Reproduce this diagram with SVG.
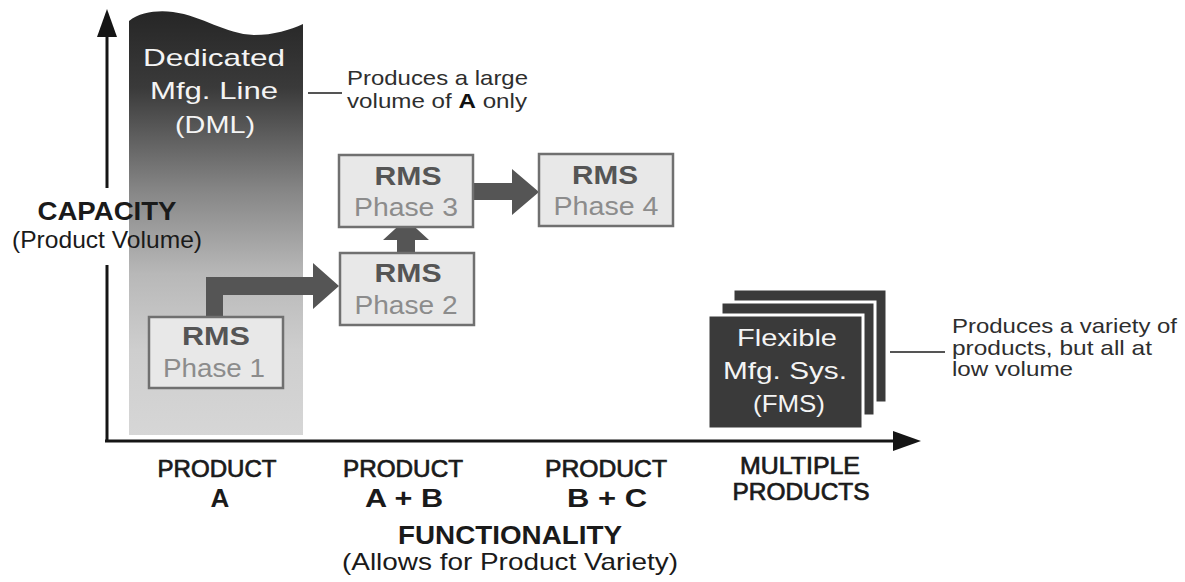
<svg xmlns="http://www.w3.org/2000/svg" width="1185" height="582" viewBox="0 0 1185 582">
  <defs>
    <linearGradient id="dmlGrad" x1="0" y1="0" x2="0" y2="1">
      <stop offset="0" stop-color="#262626"/>
      <stop offset="0.18" stop-color="#3a3a3a"/>
      <stop offset="0.42" stop-color="#858585"/>
      <stop offset="0.62" stop-color="#b8b8b8"/>
      <stop offset="0.8" stop-color="#cecece"/>
      <stop offset="1" stop-color="#d6d6d6"/>
    </linearGradient>
    <style>
      text { font-family: "Liberation Sans", Arial, Helvetica, sans-serif; }
      .axis { stroke: #151515; stroke-width: 3; fill: none; }
      .axhead { fill: #151515; }
      .rmsbox { fill: #e8e8e8; stroke: #707070; stroke-width: 2.5; }
      .rms { font-size: 25px; font-weight: bold; fill: #555555; text-anchor: middle; }
      .phase { font-size: 25px; fill: #8c8c8c; text-anchor: middle; }
      .arrow { fill: #555555; }
      .white { font-size: 24px; fill: #f4f4f4; text-anchor: middle; }
      .note { font-size: 21px; fill: #2e2e2e; }
      .leader { stroke: #555555; stroke-width: 2; }
      .fmsbox { fill: #3a3a3a; stroke: #ffffff; stroke-width: 3; }
      .prod { font-size: 23px; fill: #1a1a1a; stroke: #1a1a1a; stroke-width: 0.7; text-anchor: middle; }
      .prodb { font-size: 26px; font-weight: bold; fill: #1a1a1a; text-anchor: middle; }
      .title { font-size: 25px; font-weight: bold; fill: #1a1a1a; text-anchor: middle; }
      .sub { font-size: 24px; fill: #1a1a1a; text-anchor: middle; }
    </style>
  </defs>

  <rect width="1185" height="582" fill="#ffffff"/>

  <!-- DML column -->
  <g id="dml">
    <path d="M129,21 C140,12 158,10 173,12 C203,16 225,34 254,35 C274,35 290,30 303,24 L303,435 L129,435 Z" fill="url(#dmlGrad)"/>
    <text class="white" x="214" y="66" font-size="25" textLength="142" lengthAdjust="spacingAndGlyphs">Dedicated</text>
    <text class="white" x="214" y="99" font-size="25" textLength="128" lengthAdjust="spacingAndGlyphs">Mfg. Line</text>
    <text class="white" x="215" y="133" font-size="25" textLength="80" lengthAdjust="spacingAndGlyphs">(DML)</text>
  </g>

  <!-- Axes -->
  <g id="axes">
    <line class="axis" x1="107" y1="441" x2="107" y2="265"/>
    <line class="axis" x1="107" y1="188" x2="107" y2="34"/>
    <polygon class="axhead" points="107,9 97,37 117,37"/>
    <line class="axis" x1="105" y1="441" x2="895" y2="441"/>
    <polygon class="axhead" points="921,441 893,431 893,451"/>
  </g>

  <g id="capacity-label">
    <text class="title" x="107" y="220" font-size="22" textLength="139" lengthAdjust="spacingAndGlyphs">CAPACITY</text>
    <text class="sub" x="107" y="248" font-size="23" textLength="190" lengthAdjust="spacingAndGlyphs">(Product Volume)</text>
  </g>

  <!-- Annotation DML -->
  <g id="note-dml">
    <line class="leader" x1="308" y1="93" x2="342" y2="93"/>
    <text class="note" x="347" y="85" textLength="181" lengthAdjust="spacingAndGlyphs">Produces a large</text>
    <text class="note" x="347" y="108" textLength="180" lengthAdjust="spacingAndGlyphs">volume of <tspan font-weight="bold" fill="#111">A</tspan> only</text>
  </g>

  <!-- Connectors -->
  <g id="connectors">
    <polygon class="arrow" points="206,318 206,277 313,277 313,263 339,286 313,309 313,295 223,295 223,318"/>
    <polygon class="arrow" points="397,254 397,240 383,240 406,219 429,240 415,240 415,254"/>
    <polygon class="arrow" points="474,183 512,183 512,169 539,192 512,215 512,200 474,200"/>
  </g>

  <!-- RMS nodes -->
  <g id="rms1">
    <rect class="rmsbox" x="149" y="317" width="134" height="71"/>
    <text class="rms" x="216" y="345" textLength="68" lengthAdjust="spacingAndGlyphs">RMS</text>
    <text class="phase" x="214" y="377" textLength="102" lengthAdjust="spacingAndGlyphs">Phase 1</text>
  </g>
  <g id="rms2">
    <rect class="rmsbox" x="340" y="253" width="134" height="72"/>
    <text class="rms" x="408" y="282" textLength="67" lengthAdjust="spacingAndGlyphs">RMS</text>
    <text class="phase" x="406" y="314" textLength="103" lengthAdjust="spacingAndGlyphs">Phase 2</text>
  </g>
  <g id="rms3">
    <rect class="rmsbox" x="339" y="155" width="134" height="72"/>
    <text class="rms" x="408" y="185" textLength="67" lengthAdjust="spacingAndGlyphs">RMS</text>
    <text class="phase" x="406" y="216" textLength="104" lengthAdjust="spacingAndGlyphs">Phase 3</text>
  </g>
  <g id="rms4">
    <rect class="rmsbox" x="539" y="154" width="134" height="72"/>
    <text class="rms" x="605" y="184" textLength="66" lengthAdjust="spacingAndGlyphs">RMS</text>
    <text class="phase" x="606" y="215" textLength="105" lengthAdjust="spacingAndGlyphs">Phase 4</text>
  </g>

  <!-- FMS node -->
  <g id="fms">
    <rect class="fmsbox" x="733" y="289" width="154" height="114"/>
    <rect class="fmsbox" x="721" y="302" width="154" height="114"/>
    <rect class="fmsbox" x="708" y="315" width="155" height="114"/>
    <text class="white" x="787" y="346" font-size="22" textLength="100" lengthAdjust="spacingAndGlyphs">Flexible</text>
    <text class="white" x="785" y="379" font-size="22" textLength="124" lengthAdjust="spacingAndGlyphs">Mfg. Sys.</text>
    <text class="white" x="789" y="412" font-size="22" textLength="72" lengthAdjust="spacingAndGlyphs">(FMS)</text>
  </g>

  <!-- Annotation FMS -->
  <g id="note-fms">
    <line class="leader" x1="890" y1="352" x2="945" y2="352"/>
    <text class="note" x="952" y="333" textLength="225" lengthAdjust="spacingAndGlyphs">Produces a variety of</text>
    <text class="note" x="952" y="355" textLength="200" lengthAdjust="spacingAndGlyphs">products, but all at</text>
    <text class="note" x="952" y="376" textLength="121" lengthAdjust="spacingAndGlyphs">low volume</text>
  </g>

  <!-- X axis category labels -->
  <g id="cat-a">
    <text class="prod" x="217" y="477" textLength="119" lengthAdjust="spacingAndGlyphs">PRODUCT</text>
    <text class="prodb" x="220" y="507">A</text>
  </g>
  <g id="cat-ab">
    <text class="prod" x="403" y="477" textLength="120" lengthAdjust="spacingAndGlyphs">PRODUCT</text>
    <text class="prodb" x="404" y="507" textLength="78" lengthAdjust="spacingAndGlyphs">A + B</text>
  </g>
  <g id="cat-bc">
    <text class="prod" x="606" y="477" textLength="122" lengthAdjust="spacingAndGlyphs">PRODUCT</text>
    <text class="prodb" x="607" y="507" textLength="80" lengthAdjust="spacingAndGlyphs">B + C</text>
  </g>
  <g id="cat-multi">
    <text class="prod" x="800" y="474" font-size="21" textLength="120" lengthAdjust="spacingAndGlyphs">MULTIPLE</text>
    <text class="prod" x="801" y="500" font-size="21" textLength="137" lengthAdjust="spacingAndGlyphs">PRODUCTS</text>
  </g>

  <g id="functionality-label">
    <text class="title" x="510" y="544" font-size="24" textLength="224" lengthAdjust="spacingAndGlyphs">FUNCTIONALITY</text>
    <text class="sub" x="510" y="570" font-size="23" textLength="336" lengthAdjust="spacingAndGlyphs">(Allows for Product Variety)</text>
  </g>
</svg>
